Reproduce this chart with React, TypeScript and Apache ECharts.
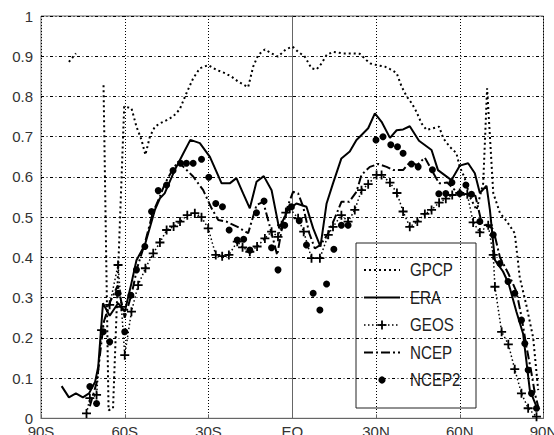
import React, { useEffect, useRef } from "react";
import * as echarts from "echarts";

// ---- data (latitude in degrees, negative = south) ----
const xTickValues = [-90, -60, -30, 0, 30, 60, 90];
const xTickLabels = ["90S", "60S", "30S", "EQ", "30N", "60N", "90N"];

const gpcpLat = [-80, -77.5, -72.5, -67.6, -65.8, -64.2, -60.2, -57.6, -55.8, -54, -52.6, -51, -49.2, -47.4, -45, -42.7, -40.3, -37.9, -35.5, -33.1, -30.1, -27.1, -24.1, -21.7, -19.4, -15.8, -14, -12.2, -9.8, -7.4, -5.1, -2.3, 0.1, 2.1, 4.5, 6.9, 8.7, 10.5, 12.3, 14.6, 18.2, 21.8, 24.2, 26.6, 28, 30.2, 33.2, 35.6, 37.4, 39.2, 41, 42.8, 44.5, 46.3, 48.1, 50.5, 52.6, 54.1, 56.4, 58.8, 60, 61.8, 63.6, 66, 68.4, 69.8, 72, 74.4, 76.8, 79.7, 81.5, 83.9, 86.3, 88.1];
const gpcpVal = [0.886, 0.907, null, 0.828, 0.02, 0.025, 0.775, 0.771, 0.725, 0.692, 0.655, 0.7, 0.725, 0.733, 0.741, 0.75, 0.768, 0.808, 0.845, 0.87, 0.878, 0.866, 0.858, 0.849, 0.837, 0.823, 0.874, 0.903, 0.917, 0.907, 0.899, 0.917, 0.924, 0.911, 0.899, 0.87, 0.867, 0.882, 0.903, 0.911, 0.907, 0.907, 0.906, 0.89, 0.882, 0.878, 0.874, 0.866, 0.858, 0.824, 0.8, 0.783, 0.762, 0.733, 0.717, 0.721, 0.725, 0.696, 0.675, 0.659, 0.625, 0.597, 0.551, 0.518, 0.584, 0.82, 0.56, 0.51, 0.49, 0.46, 0.35, 0.28, 0.2, 0.07];

const eraLat = [-82.6, -80, -77.5, -75, -72.8, -70.6, -69.5, -67.8, -65.4, -62.4, -60, -57.6, -55.8, -52.8, -49.2, -47.4, -45.7, -42.1, -39, -36.5, -33.1, -29.5, -25.3, -22.4, -20, -17.6, -15.2, -12.8, -10.2, -7.4, -4.7, -1.5, 1.5, 5.1, 7.5, 10.1, 12.3, 14.6, 17.6, 20.6, 23, 24.2, 27.2, 29.6, 32, 35, 37.4, 39.7, 42.1, 45.4, 49.9, 52.2, 57, 60, 63, 65.4, 67.2, 69.6, 70.8, 72.6, 75.5, 77.5, 80.3, 82.7, 83.9, 85.1, 87.5];
const eraVal = [0.08, 0.052, 0.062, 0.052, 0.062, 0.091, 0.128, 0.286, 0.255, 0.286, 0.265, 0.336, 0.393, 0.431, 0.518, 0.547, 0.559, 0.617, 0.659, 0.692, 0.684, 0.65, 0.584, 0.584, 0.597, 0.559, 0.522, 0.588, 0.602, 0.567, 0.472, 0.518, 0.534, 0.526, 0.472, 0.427, 0.534, 0.584, 0.646, 0.663, 0.692, 0.7, 0.721, 0.758, 0.737, 0.697, 0.716, 0.718, 0.726, 0.69, 0.667, 0.617, 0.592, 0.628, 0.634, 0.609, 0.56, 0.578, 0.518, 0.393, 0.365, 0.335, 0.265, 0.21, 0.14, 0.07, 0.029];

const geosLat = [-73.7, -72.5, -70.1, -68.3, -65.4, -62.4, -61.2, -60, -57.6, -55.2, -52.6, -49.8, -47.4, -45, -42.5, -40.2, -37.6, -34.9, -32.5, -30.1, -27.4, -25.1, -22.7, -19.7, -17.8, -15.2, -12.6, -9.8, -7.4, -5.1, -3.8, -2.3, -0.9, 2.1, 4.1, 6.9, 9.9, 12.9, 14.6, 17.6, 20, 22.4, 24.8, 27.2, 30.2, 32, 35, 37.5, 39.7, 42.1, 44.8, 47.5, 49.9, 52.6, 55, 57.3, 60, 62.7, 64.8, 67.2, 70.2, 72, 72.6, 75, 77.4, 79.7, 82.1, 84.5, 87.5];
const geosVal = [0.012, 0.05, 0.058, 0.219, 0.282, 0.381, 0.277, 0.157, 0.265, 0.331, 0.373, 0.41, 0.437, 0.468, 0.477, 0.489, 0.505, 0.51, 0.5, 0.472, 0.406, 0.403, 0.406, 0.439, 0.425, 0.414, 0.427, 0.447, 0.464, 0.451, 0.48, 0.511, 0.522, 0.497, 0.464, 0.398, 0.398, 0.456, 0.476, 0.505, 0.489, 0.518, 0.567, 0.582, 0.605, 0.605, 0.586, 0.56, 0.514, 0.476, 0.489, 0.508, 0.518, 0.536, 0.546, 0.555, 0.56, 0.557, 0.487, 0.462, 0.48, 0.406, 0.327, 0.215, 0.184, 0.122, 0.062, 0.025, 0.004];

const ncepLat = [-72.5, -70, -67.5, -65.2, -62.5, -60, -57.5, -55.5, -52.8, -50, -47.5, -45.5, -42.5, -40.8, -35.5, -31.9, -28.9, -26.5, -23.6, -19.4, -15.8, -12.8, -10.4, -8, -5.4, -3.8, -1.5, 0.3, 2.1, 3.9, 6.1, 8.1, 10.1, 12.9, 15.2, 17.6, 20.4, 23, 24.8, 27.8, 30.8, 33.8, 36.2, 39.7, 42.1, 44.8, 47.5, 50.2, 52.6, 55.5, 57, 59.7, 62.4, 65.6, 67.8, 70.8, 72, 74.4, 77.4, 80.3, 82.1, 83.9, 85.7, 86.9, 88.1];
const ncepVal = [0.03, 0.09, 0.24, 0.29, 0.33, 0.25, 0.31, 0.375, 0.435, 0.51, 0.55, 0.585, 0.622, 0.638, 0.601, 0.567, 0.522, 0.493, 0.489, 0.475, 0.46, 0.53, 0.538, 0.476, 0.406, 0.468, 0.53, 0.563, 0.559, 0.526, 0.46, 0.422, 0.431, 0.46, 0.497, 0.538, 0.538, 0.563, 0.605, 0.625, 0.632, 0.625, 0.617, 0.617, 0.636, 0.63, 0.648, 0.614, 0.584, 0.586, 0.576, 0.557, 0.555, 0.553, 0.487, 0.476, 0.47, 0.4, 0.36, 0.315, 0.253, 0.178, 0.112, 0.062, 0.029];

const ncep2Lat = [-72.5, -70.1, -67.7, -65.4, -62.4, -60, -57.8, -55.8, -52.8, -50.4, -48, -45, -42.7, -40, -37.9, -35.5, -32.5, -29.9, -27.4, -25, -22.6, -19.7, -17.4, -15.2, -12.8, -10.1, -7.4, -5.1, -2.7, -0.3, 2.5, 5.1, 7.5, 9.9, 12.3, 14.9, 17.6, 20, 30, 32.5, 35.3, 37.7, 39.7, 42.7, 45.1, 50.2, 52.5, 55, 57.2, 60, 62.2, 64.2, 67.2, 72, 74.4, 77.3, 79.7, 82.1, 83.3, 84.5, 85.7, 87.5];
const ncep2Val = [0.079, 0.037, 0.215, 0.19, 0.311, 0.215, 0.306, 0.369, 0.427, 0.514, 0.566, 0.58, 0.616, 0.634, 0.634, 0.634, 0.644, 0.599, 0.534, 0.526, 0.468, 0.443, 0.445, 0.418, 0.511, 0.54, 0.424, 0.369, 0.48, 0.526, 0.491, 0.431, 0.311, 0.269, 0.334, 0.42, 0.48, 0.48, 0.692, 0.7, 0.68, 0.675, 0.659, 0.632, 0.625, 0.618, 0.558, 0.559, 0.586, 0.559, 0.58, 0.557, 0.489, 0.456, 0.385, 0.34, 0.311, 0.244, 0.186, 0.12, 0.062, 0.025];

const legendNames = ["GPCP", "ERA", "GEOS", "NCEP", "NCEP2"];

const zip = (lat: number[], val: (number | null)[]) => lat.map((x, i) => [x, val[i]]);

const PLUS = "path://M4,0 H6 V4 H10 V6 H6 V10 H4 V6 H0 V4 H4 Z";
const FONT = '"Liberation Sans", Arial, Helvetica, sans-serif';

function buildLegend() {
  const left = 356, top = 243, w = 120, h = 165;
  const x1 = 364, x2 = 400, tx = 410;
  const children: any[] = [
    { type: "rect", shape: { x: left, y: top, width: w, height: h }, style: { fill: "#fff", stroke: "#222", lineWidth: 1 } },
  ];
  legendNames.forEach((name, i) => {
    const cy = 270 + i * 27.5;
    const mid = (x1 + x2) / 2;
    if (name === "GPCP") {
      children.push({ type: "line", shape: { x1, y1: cy, x2, y2: cy }, style: { stroke: "#000", lineWidth: 2, lineDash: [2, 3] } });
    } else if (name === "ERA") {
      children.push({ type: "line", shape: { x1, y1: cy, x2, y2: cy }, style: { stroke: "#000", lineWidth: 2 } });
    } else if (name === "GEOS") {
      children.push({ type: "line", shape: { x1, y1: cy, x2, y2: cy }, style: { stroke: "#000", lineWidth: 1.5, lineDash: [1.5, 2.5] } });
      children.push({ type: "line", shape: { x1: mid - 4.5, y1: cy, x2: mid + 4.5, y2: cy }, style: { stroke: "#000", lineWidth: 1.8 } });
      children.push({ type: "line", shape: { x1: mid, y1: cy - 4.5, x2: mid, y2: cy + 4.5 }, style: { stroke: "#000", lineWidth: 1.8 } });
    } else if (name === "NCEP") {
      children.push({ type: "line", shape: { x1, y1: cy, x2, y2: cy }, style: { stroke: "#000", lineWidth: 2, lineDash: [9, 3, 2, 3] } });
    } else {
      children.push({ type: "circle", shape: { cx: mid, cy, r: 3.6 }, style: { fill: "#000" } });
    }
    children.push({
      type: "text",
      x: tx,
      y: cy,
      scaleX: 0.82,
      style: { text: name, x: 0, y: 0, fill: "#222", fontSize: 18.5, fontFamily: FONT, align: "left", verticalAlign: "middle", textAlign: "left", textVerticalAlign: "middle" },
    });
  });
  return [{ type: "group", children, z: 100 }];
}

export default function App() {
  const ref = useRef<HTMLDivElement>(null);
  useEffect(() => {
    if (!ref.current) return;
    const chart = echarts.init(ref.current, undefined, { renderer: "svg" });
    const axisColor = "#666";
    chart.setOption({
      animation: false,
      backgroundColor: "#fff",
      grid: {
        left: 41, right: 10.5, top: 16, bottom: 16.7,
        containLabel: false, outerBoundsMode: "none",
        show: true, borderColor: axisColor, borderWidth: 1, backgroundColor: "transparent",
      },
      xAxis: {
        type: "value",
        min: -90,
        max: 90,
        interval: 30,
        axisLine: { show: true, lineStyle: { color: axisColor, width: 1 } },
        axisTick: { show: true, inside: true, length: 4, lineStyle: { color: axisColor } },
        axisLabel: {
          margin: 6,
          color: "#333",
          fontSize: 15,
          fontFamily: FONT,
          formatter: (v: number) => xTickLabels[xTickValues.indexOf(v)] ?? "",
        },
        splitLine: { show: true, lineStyle: { color: "#000", width: 1, type: [1, 2] } },
      },
      yAxis: {
        type: "value",
        min: 0,
        max: 1,
        interval: 0.1,
        axisLine: { show: true, lineStyle: { color: axisColor, width: 1 } },
        axisTick: { show: true, inside: false, length: 4, lineStyle: { color: axisColor } },
        axisLabel: { margin: 8, color: "#333", fontSize: 15, fontFamily: FONT },
        splitLine: { show: true, lineStyle: { color: "#000", width: 1, type: [3, 2.5, 1, 2.5] } },
      },
      series: [
        {
          name: "GPCP",
          type: "line",
          data: zip(gpcpLat, gpcpVal),
          showSymbol: false,
          connectNulls: false,
          lineStyle: { color: "#000", width: 2, type: [2, 3] },
          z: 3,
        },
        {
          name: "ERA",
          type: "line",
          data: zip(eraLat, eraVal),
          showSymbol: false,
          lineStyle: { color: "#000", width: 2 },
          z: 4,
        },
        {
          name: "GEOS",
          type: "line",
          data: zip(geosLat, geosVal),
          showSymbol: true,
          symbol: PLUS,
          symbolSize: 9,
          itemStyle: { color: "#000", opacity: 1 },
          lineStyle: { color: "#000", width: 1.5, type: [1.5, 2.5] },
          z: 3,
        },
        {
          name: "NCEP",
          type: "line",
          data: zip(ncepLat, ncepVal),
          showSymbol: false,
          lineStyle: { color: "#000", width: 2, type: [9, 3, 2, 3] },
          z: 3,
        },
        {
          name: "NCEP2",
          type: "scatter",
          data: zip(ncep2Lat, ncep2Val),
          symbol: "circle",
          symbolSize: 7,
          itemStyle: { color: "#000", opacity: 1 },
          z: 5,
        },
      ],
      graphic: buildLegend(),
    });
    return () => chart.dispose();
  }, []);
  return <div ref={ref} style={{ position: "absolute", left: 0, top: 0, width: 554, height: 435 }} />;
}
